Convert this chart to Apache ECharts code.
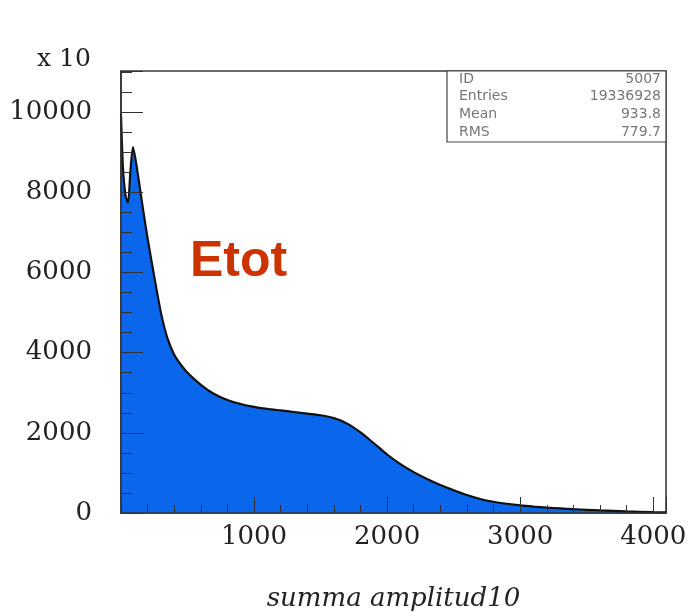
<!DOCTYPE html>
<html>
<head>
<meta charset="utf-8">
<script src="https://cdn.jsdelivr.net/npm/echarts@6/dist/echarts.min.js"></script>
<style>
html,body{margin:0;padding:0;background:#fff;}
#chart{width:688px;height:616px;}
</style>
</head>
<body>
<div id="chart"></div>
<script>
// histogram "summa amplitud10" (values shown x 10)
var amplitude = [0, 15, 35, 53, 70, 90, 120, 160, 200, 250, 300, 350, 400, 450, 500, 600, 700, 800, 900, 1000,
  1100, 1200, 1300, 1400, 1500, 1600, 1700, 1800, 1900, 2000, 2100, 2200, 2300, 2400, 2500, 2600, 2700, 2800,
  2900, 3000, 3100, 3200, 3300, 3400, 3500, 3600, 3800, 4000, 4096];
var counts = [9950, 8600, 7900, 7750, 8500, 9130, 8600, 7700, 6850, 5900, 5000, 4350, 3950, 3700, 3500, 3200, 2970, 2820, 2720, 2650,
  2600, 2560, 2520, 2480, 2440, 2370, 2230, 2010, 1740, 1460, 1220, 1020, 850, 700, 570, 450, 350, 280,
  230, 190, 160, 135, 115, 95, 80, 65, 40, 20, 15];
var yTicks = [0, 2000, 4000, 6000, 8000, 10000];
var xTicks = [1000, 2000, 3000, 4000];
var statLabels = ['ID', 'Entries', 'Mean', 'RMS'];
var statValues = ['5007', '19336928', '933.8', '779.7'];

var data = amplitude.map(function (a, i) { return [a, counts[i]]; });

var chart = echarts.init(document.getElementById('chart'), null, {renderer: 'canvas'});

var G = {left: 121, top: 71, width: 545, height: 442};
var statGroup = [];
var bx = 447, by = 71, bw = G.left + G.width - 447, bh = 71;
statGroup.push({type: 'rect', shape: {x: bx, y: by, width: bw, height: bh},
  style: {fill: '#fff', stroke: '#444', lineWidth: 1.2}, z: 10});
statLabels.forEach(function (l, i) {
  var yy = by + 8 + i * 17.8;
  statGroup.push({type: 'text', x: bx + 12, y: yy, z: 11,
    style: {text: l, fill: '#777', font: '14px "DejaVu Sans"', textVerticalAlign: 'middle'}});
  statGroup.push({type: 'text', x: bx + bw - 5, y: yy, z: 11,
    style: {text: statValues[i], fill: '#777', font: '14px "DejaVu Sans"', textAlign: 'right', textVerticalAlign: 'middle'}});
});

chart.setOption({
  animation: false,
  backgroundColor: '#fff',
  grid: {left: G.left, top: G.top, width: G.width, height: G.height, show: true,
    containLabel: false, outerBoundsMode: 'none',
    borderColor: '#3a3a3a', borderWidth: 1.6, backgroundColor: 'transparent'},
  xAxis: {
    type: 'value', min: 0, max: 4096, interval: 1000, z: 5,
    name: 'summa amplitud10', nameLocation: 'middle', nameGap: 73,
    nameTextStyle: {fontFamily: 'DejaVu Serif', fontStyle: 'italic', fontSize: 26, color: '#222'},
    axisLine: {show: true, lineStyle: {color: '#333', width: 1.6}},
    axisTick: {show: true, inside: true, length: 16, lineStyle: {color: '#333', width: 1}},
    minorTick: {show: true, splitNumber: 5, length: 8, lineStyle: {color: '#333', width: 1}},
    splitLine: {show: false},
    axisLabel: {
      margin: 11, fontFamily: 'DejaVu Serif', fontSize: 26, color: '#222',
      showMinLabel: false, showMaxLabel: false,
      formatter: function (v) { return xTicks.indexOf(v) >= 0 ? String(v) : ''; }
    }
  },
  yAxis: {
    type: 'value', min: 0, max: 11030, interval: 2000, z: 5,
    axisLine: {show: true, lineStyle: {color: '#333', width: 1.6}},
    axisTick: {show: true, inside: true, length: 22, lineStyle: {color: '#333', width: 1}},
    minorTick: {show: true, splitNumber: 4, length: 11, lineStyle: {color: '#333', width: 1}},
    splitLine: {show: false},
    axisLabel: {
      margin: 29, fontFamily: 'DejaVu Serif', fontSize: 26, color: '#222',
      showMaxLabel: false,
      formatter: function (v) { return yTicks.indexOf(v) >= 0 ? String(v) : ''; }
    }
  },
  series: [{
    type: 'line', data: data, showSymbol: false, symbol: 'none', smooth: 0.25,
    lineStyle: {color: '#111', width: 2.2},
    areaStyle: {color: '#0a66ea', opacity: 1},
    z: 2
  }],
  graphic: [
    {type: 'text', left: 37, top: 47,
      style: {text: 'x 10', font: '25px "DejaVu Serif"', fill: '#222'}},
    {type: 'text', left: 190, top: 237,
      style: {text: 'Etot', font: 'bold 50px "Liberation Sans"', fill: '#cc3300'}},
    {type: 'group', children: statGroup}
  ]
});
</script>
</body>
</html>
